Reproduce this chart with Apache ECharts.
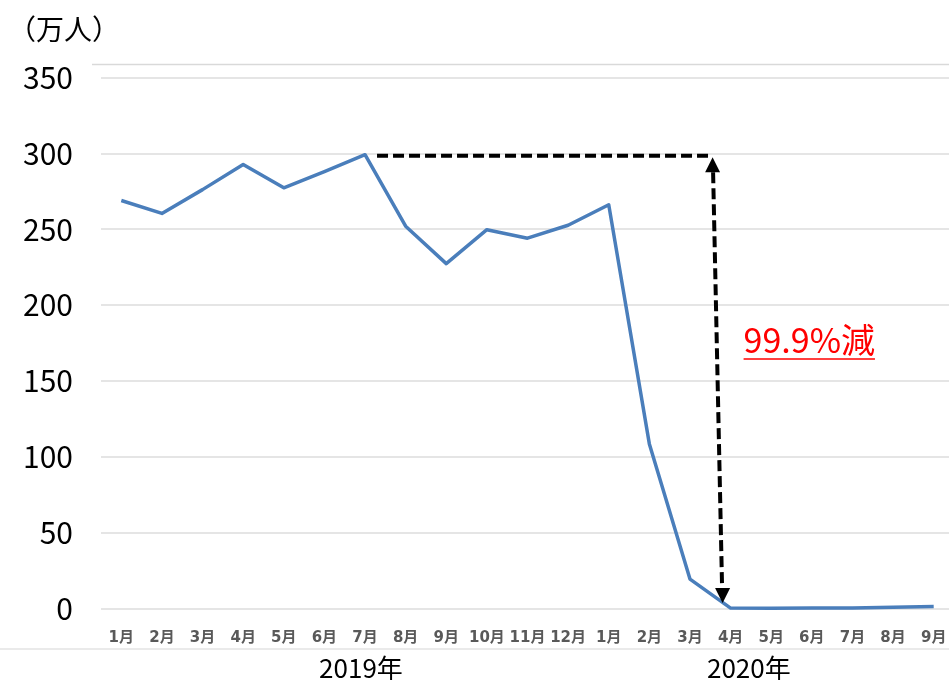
<!DOCTYPE html>
<html>
<head>
<meta charset="utf-8">
<script src="https://cdn.jsdelivr.net/npm/echarts@6/dist/echarts.min.js"></script>
<style>
  html, body { margin: 0; padding: 0; background: #fff; }
  #chart { width: 949px; height: 680px; }
</style>
</head>
<body>
<div id="chart"></div>
<script>
// Monthly visitor arrivals (万人), Jan 2019 – Sep 2020
const months = ['1月','2月','3月','4月','5月','6月','7月','8月','9月','10月','11月','12月',
                '1月','2月','3月','4月','5月','6月','7月','8月','9月'];
const visitors = [268.9, 260.4, 276.1, 292.7, 277.3, 288.0, 299.1, 252.0, 227.3, 249.7, 244.1, 252.6,
                  266.1, 108.5, 19.4, 0.29, 0.17, 0.26, 0.39, 0.87, 1.37];
const yearLabels = ['2019年', '2020年'];
const yearLabelIndex = [5.9, 15.45];   // where each year caption sits along the month axis
const yTicks = [0, 50, 100, 150, 200, 250, 300, 350];
const peakIndex = 6;      // 2019年7月
const troughIndex = 15;   // 2020年4月
const dropText = '99.9%減';

const FONT = '"Noto Sans CJK JP", "Noto Sans", sans-serif';
const MONTH_FONT = '"DejaVu Sans", "Noto Sans CJK JP", sans-serif';
const chart = echarts.init(document.getElementById('chart'), null, { renderer: 'canvas' });

chart.setOption({
  animation: false,
  backgroundColor: '#ffffff',
  grid: {
    left: 101, top: 77.5, width: 853, height: 531,
    containLabel: false, outerBoundsMode: 'none'
  },
  xAxis: {
    type: 'category',
    data: months,
    boundaryGap: true,
    axisLine: { show: false },
    axisTick: { show: false },
    axisLabel: {
      interval: 0, margin: 22,
      color: '#595959', fontSize: 15, fontWeight: 'bold', fontFamily: MONTH_FONT
    },
    splitLine: { show: false }
  },
  yAxis: {
    type: 'value',
    min: yTicks[0], max: yTicks[yTicks.length - 1], interval: 50,
    axisLine: { show: false },
    axisTick: { show: false },
    axisLabel: { margin: 28, color: '#000', fontSize: 30, fontFamily: FONT },
    splitLine: { lineStyle: { color: '#dcdcdc', width: 1.5 } }
  },
  series: [{
    type: 'line',
    data: visitors,
    symbol: 'none',
    smooth: false,
    lineStyle: { color: '#4a7ebb', width: 3.5, join: 'round' },
    z: 3
  }]
});

// Annotations placed from the data through the chart's own coordinate system
const px = (i, v) => chart.convertToPixel({ xAxisIndex: 0, yAxisIndex: 0 }, [i, v]);
const xAt = (f) => {
  const a = Math.floor(f), b = Math.ceil(f);
  const pa = px(a, 0)[0], pb = px(b, 0)[0];
  return pa + (pb - pa) * (f - a);
};

const peak = px(peakIndex, visitors[peakIndex]);
const topAt = px(troughIndex, visitors[peakIndex]);
const bottomAt = px(troughIndex, visitors[troughIndex]);

const hy = topAt[1] + 1;
const topTip = [topAt[0] - 18, hy + 1.5];
const botTip = [bottomAt[0] - 8, bottomAt[1] - 5];
const head = 15, half = 7.5;
const dash = { stroke: '#000', lineWidth: 4, lineDash: [11, 5] };
const labelX = topTip[0] + 31;
const labelFont = '34px ' + FONT;

const ctx = document.createElement('canvas').getContext('2d');
ctx.font = labelFont;
const labelW = ctx.measureText(dropText).width;

const graphics = [
  // frame lines
  { type: 'line', shape: { x1: 92, y1: 64.5, x2: 949, y2: 64.5 }, style: { stroke: '#d9d9d9', lineWidth: 1.5 }, silent: true },
  { type: 'line', shape: { x1: 0, y1: 649, x2: 949, y2: 649 }, style: { stroke: '#e3e3e3', lineWidth: 1.5 }, silent: true },
  // unit caption
  { type: 'text', left: 8, top: 15, style: { text: '（万人）', font: '28px ' + FONT, fill: '#000' } },
  // horizontal dashed guide from the peak
  { type: 'line', shape: { x1: peak[0] + 12, y1: hy, x2: topTip[0] - 2, y2: hy }, style: dash, z: 10 },
  // vertical dashed arrow shaft
  { type: 'line', shape: { x1: topTip[0] + 0.5, y1: topTip[1] + head, x2: botTip[0] - 0.5, y2: botTip[1] - head }, style: dash, z: 10 },
  // arrowheads
  { type: 'polygon', shape: { points: [topTip, [topTip[0] - half, topTip[1] + head], [topTip[0] + half, topTip[1] + head]] }, style: { fill: '#000' }, z: 10 },
  { type: 'polygon', shape: { points: [botTip, [botTip[0] - half, botTip[1] - head], [botTip[0] + half, botTip[1] - head]] }, style: { fill: '#000' }, z: 10 },
  // drop label with underline
  { type: 'text', x: labelX, y: 357, style: { text: dropText, font: labelFont, fill: '#ff0000', verticalAlign: 'bottom' }, z: 10 },
  { type: 'line', shape: { x1: labelX, y1: 359, x2: labelX + labelW, y2: 359 }, style: { stroke: '#ff0000', lineWidth: 1.5 }, z: 10 }
];

// year captions below the month labels
yearLabels.forEach((t, k) => {
  graphics.push({
    type: 'text', x: xAt(yearLabelIndex[k]), y: 668,
    style: { text: t, font: '26px ' + FONT, fill: '#000', align: 'center', verticalAlign: 'middle' }
  });
});

chart.setOption({ graphic: graphics });
</script>
</body>
</html>
